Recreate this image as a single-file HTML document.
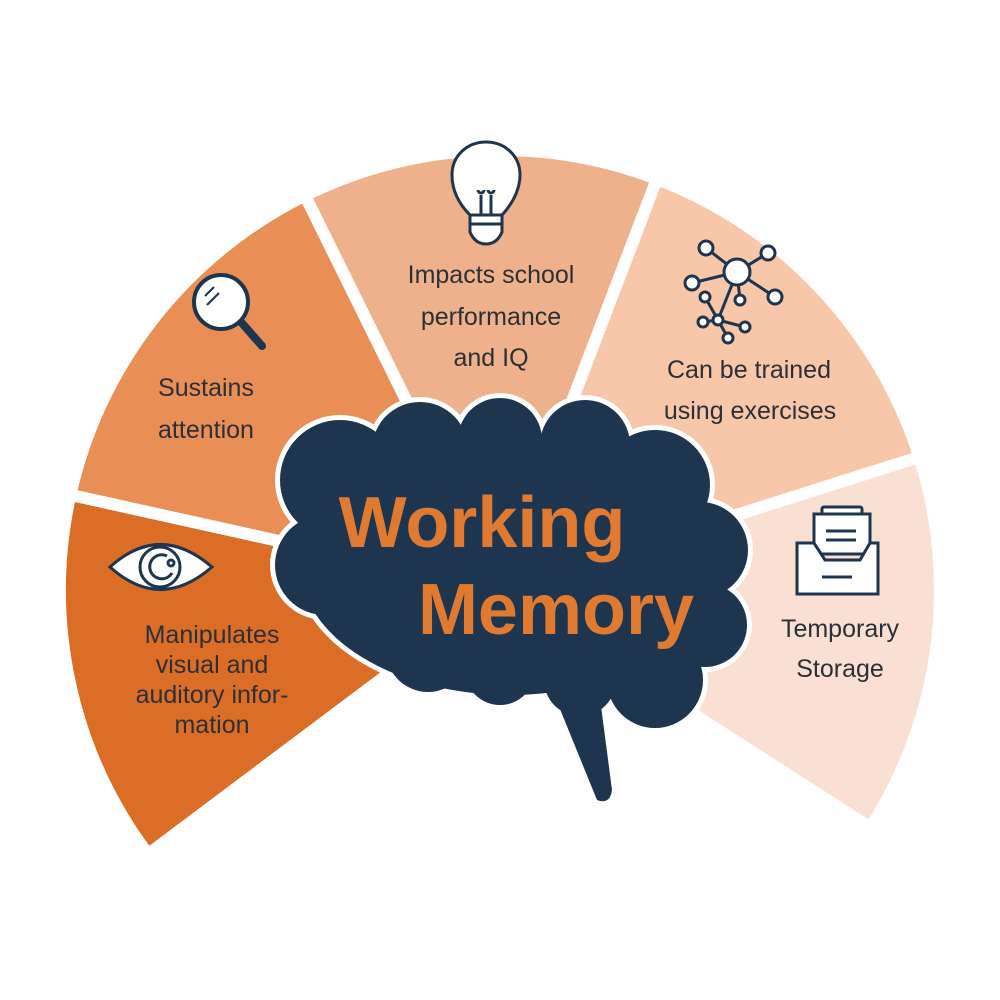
<!DOCTYPE html>
<html><head><meta charset="utf-8"><style>
html,body{margin:0;padding:0;background:#fff;}
svg{display:block;}
text{font-family:"Liberation Sans",sans-serif;fill:#2a3038;}
</style></head><body>
<svg width="1000" height="1000" viewBox="0 0 1000 1000" xmlns="http://www.w3.org/2000/svg">
<rect width="1000" height="1000" fill="#fff"/>
<g stroke="#fff" stroke-width="12" stroke-linejoin="miter">
<path d="M500,590 L148.1,854.2 A440,440 0 0 1 70.4,494.8 Z" fill="#DB6D27"/>
<path d="M500,590 L70.4,494.8 A440,440 0 0 1 305.0,195.5 Z" fill="#E98E55"/>
<path d="M500,590 L305.0,195.5 A440,440 0 0 1 656.9,179.0 Z" fill="#EFB18B"/>
<path d="M500,590 L656.9,179.0 A440,440 0 0 1 919.4,457.0 Z" fill="#F8C7A9"/>
<path d="M500,590 L919.4,457.0 A440,440 0 0 1 870.3,827.7 Z" fill="#FAE0D2"/>
</g>
<g fill="#fff" stroke="#fff" stroke-width="10">
<ellipse cx="510" cy="565" rx="210" ry="130"/>
<circle cx="340" cy="480" r="60"/><circle cx="420" cy="450" r="48"/><circle cx="500" cy="440" r="42"/>
<circle cx="585" cy="445" r="45"/><circle cx="655" cy="485" r="55"/><circle cx="700" cy="550" r="48"/>
<circle cx="705" cy="625" r="42"/><circle cx="655" cy="680" r="48"/><circle cx="580" cy="680" r="36"/>
<circle cx="500" cy="670" r="35"/><circle cx="428" cy="650" r="42"/><circle cx="325" cy="565" r="50"/>
<path d="M540,660 L595,660 L612,790 Q610,805 597,800 Z"/>
</g>
<g fill="#1E3550">
<ellipse cx="510" cy="565" rx="210" ry="130"/>
<circle cx="340" cy="480" r="60"/><circle cx="420" cy="450" r="48"/><circle cx="500" cy="440" r="42"/>
<circle cx="585" cy="445" r="45"/><circle cx="655" cy="485" r="55"/><circle cx="700" cy="550" r="48"/>
<circle cx="705" cy="625" r="42"/><circle cx="655" cy="680" r="48"/><circle cx="580" cy="680" r="36"/>
<circle cx="500" cy="670" r="35"/><circle cx="428" cy="650" r="42"/><circle cx="325" cy="565" r="50"/>
<path d="M540,660 L595,660 L612,790 Q610,805 597,800 Z"/>
</g>
<text x="482" y="547" text-anchor="middle" font-size="72" style="fill:#E07A30;font-weight:bold">Working</text>
<text x="556" y="634" text-anchor="middle" font-size="72" style="fill:#E07A30;font-weight:bold">Memory</text>

<g font-size="25" text-anchor="middle">
<text x="206" y="396">Sustains</text>
<text x="206" y="438">attention</text>
<text x="491" y="283">Impacts school</text>
<text x="491" y="325">performance</text>
<text x="491" y="366">and IQ</text>
<text x="749" y="378">Can be trained</text>
<text x="750" y="419">using exercises</text>
<text x="840" y="637">Temporary</text>
<text x="840" y="677">Storage</text>
<text x="212" y="643">Manipulates</text>
<text x="212" y="673">visual and</text>
<text x="212" y="703">auditory infor-</text>
<text x="212" y="733">mation</text>
</g>

<g stroke="#1E3550" fill="none">
<line x1="241" y1="322" x2="262" y2="346" stroke-width="8" stroke-linecap="round"/>
<circle cx="221" cy="302" r="27" fill="#fff" stroke-width="4"/>
<line x1="205" y1="296" x2="214" y2="287" stroke-width="2"/>
<line x1="207" y1="305" x2="219" y2="293" stroke-width="2"/>
</g>
<g stroke="#1E3550" stroke-width="3" fill="#fff">
<path d="M470,215 C455,200 452,185 452,175 C452,155 468,142 486,142 C504,142 520,155 520,175 C520,185 516,200 502,215 Z"/>
<path d="M470,215 L502,215 L502,232 Q497,244 486,244 Q475,244 470,232 Z"/>
<line x1="470" y1="224" x2="502" y2="224"/>
<path d="M481,215 L481,195 M491,215 L491,195 M478,190 a3,3 0 1 0 6,0 M488,190 a3,3 0 1 0 6,0" fill="none"/>
</g>
<g stroke="#1E3550" stroke-width="3" fill="#fff">
<line x1="737" y1="272" x2="706" y2="248"/><line x1="737" y1="272" x2="768" y2="253"/>
<line x1="737" y1="272" x2="692" y2="283"/><line x1="737" y1="272" x2="775" y2="297"/>
<line x1="737" y1="272" x2="718" y2="320"/><line x1="737" y1="272" x2="740" y2="300"/>
<line x1="718" y1="320" x2="703" y2="322"/><line x1="718" y1="320" x2="745" y2="327"/>
<line x1="718" y1="320" x2="728" y2="338"/><line x1="718" y1="320" x2="705" y2="297"/>
<circle cx="737" cy="272" r="13"/><circle cx="706" cy="248" r="7"/><circle cx="768" cy="253" r="7"/>
<circle cx="692" cy="283" r="7"/><circle cx="775" cy="297" r="7"/><circle cx="740" cy="300" r="5"/>
<circle cx="705" cy="297" r="5"/><circle cx="718" cy="320" r="5"/><circle cx="703" cy="322" r="5"/>
<circle cx="745" cy="327" r="5"/><circle cx="728" cy="338" r="5"/>
</g>
<g stroke="#1E3550" stroke-width="3" fill="#fff">
<path d="M110,567 Q160,522 212,567 Q160,612 110,567 Z"/>
<circle cx="160" cy="567" r="20"/>
<path d="M167,556 a12,12 0 1 0 5,17" fill="none"/>
<circle cx="171" cy="563" r="3"/>
</g>
<g stroke="#1E3550" stroke-width="3" fill="#fff">
<rect x="822" y="507" width="40" height="8" rx="2"/>
<rect x="814" y="514" width="56" height="40"/>
<path d="M797,543 L814,543 L825,560 L860,560 L870,543 L878,543 L878,594 L797,594 Z"/>
<line x1="826" y1="531" x2="856" y2="531"/><line x1="826" y1="540" x2="856" y2="540"/>
<line x1="822" y1="577" x2="852" y2="577"/>
</g>
</svg>
</body></html>
